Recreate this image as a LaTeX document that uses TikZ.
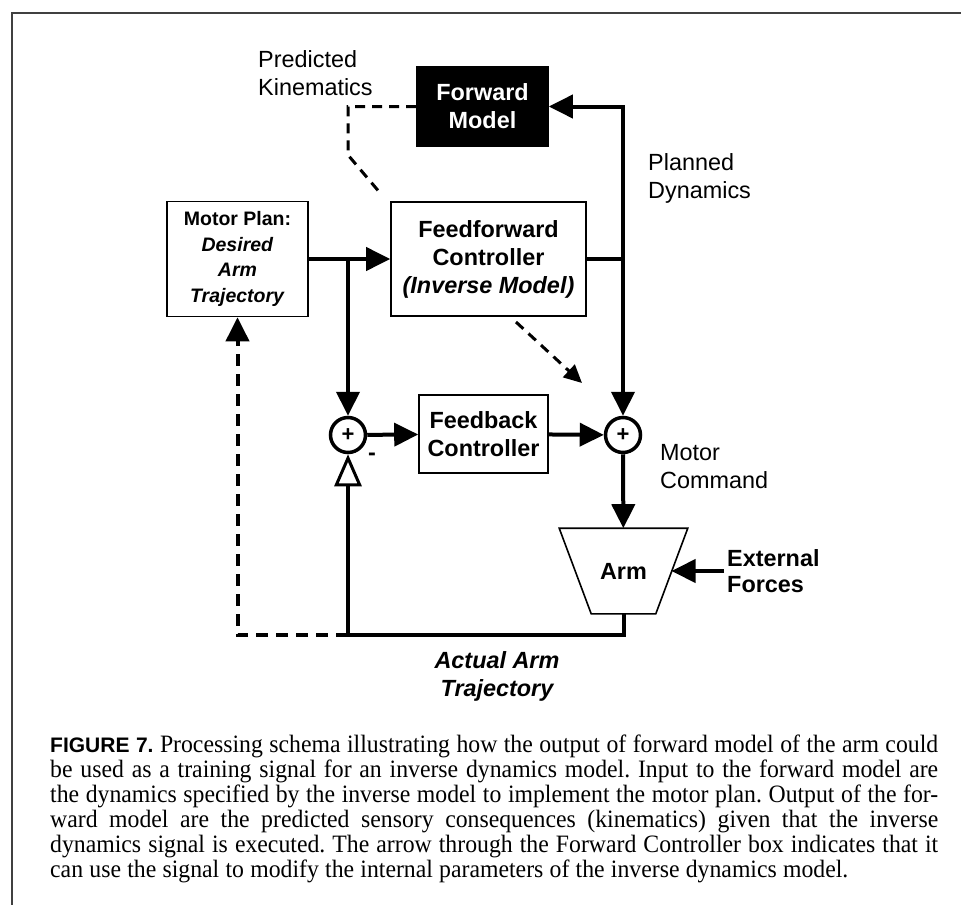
\documentclass[tikz,border=0pt]{standalone}
\usepackage{fontspec}
\setmainfont{Liberation Serif}
\setsansfont{Liberation Sans}
\newfontfamily\capfont[FakeStretch=0.95]{Liberation Serif}
\usetikzlibrary{arrows.meta,shapes.geometric,positioning}

\begin{document}
\begin{tikzpicture}[
  x=1pt,y=-1pt,>={Triangle[length=24pt,width=23pt]},
  box/.style={draw,line width=1.6pt,align=center,inner sep=0pt,
    font=\sffamily\bfseries\fontsize{23.4}{28}\selectfont},
  plainlabel/.style={font=\sffamily\fontsize{23.4}{28}\selectfont,align=left,inner sep=0pt},
  boldlabel/.style={font=\sffamily\bfseries\fontsize{23.4}{26}\selectfont,align=left,inner sep=0pt},
  sumnode/.style={circle,draw,line width=3.5pt,minimum size=35pt,inner sep=0pt,
    font=\sffamily\bfseries\fontsize{22}{22}\selectfont},
  wire/.style={line width=4pt},
  dashwire/.style={line width=3pt,dash pattern=on 10pt off 7pt},
  fbwire/.style={line width=4pt,dash pattern=on 12pt off 8pt}
]
\useasboundingbox (0,0) rectangle (961,905);
\draw[line width=2pt,black!75] (961,13) -- (12,13) -- (12,905);

\node[box,fill=black,text=white,minimum width=131pt,minimum height=79pt] (fwd) at (482.5,106.5) {Forward\\Model};
\node[box,minimum width=195pt,minimum height=114pt] (ff) at (488.5,259) {Feedforward\\Controller\\\textit{(Inverse Model)}};
\node[box,minimum width=141pt,minimum height=115pt,
  font=\sffamily\bfseries\fontsize{19.5}{25.5}\selectfont] (plan) at (237.5,259) {Motor Plan:\\\textit{Desired}\\\textit{Arm}\\\textit{Trajectory}};
\node[box,minimum width=129pt,minimum height=78pt] (fb) at (483.5,434) {Feedback\\Controller};
\node[sumnode] (sa) at (348,435) {+};
\node[sumnode] (sb) at (623,435) {+};
\node[box,draw=none,minimum width=127pt,minimum height=84pt] (arm) at (623.5,571) {Arm};
\draw[line width=1.6pt] (arm.north west) -- (arm.north east) -- ([xshift=-32pt]arm.south east)
  -- ([xshift=32pt]arm.south west) -- cycle;

\node[plainlabel,anchor=west] (pk) at (258,73) {Predicted\\Kinematics};
\node[plainlabel,anchor=west] (pd) at (648,178) {Planned\\Dynamics};
\node[plainlabel,anchor=west] (mc) at (660,467) {Motor\\Command};
\node[boldlabel,anchor=west,inner sep=3pt] (ext) at (724,571) {External\\Forces};
\node[boldlabel,align=center,font=\sffamily\bfseries\itshape\fontsize{23.4}{28}\selectfont] (act) at (497,676) {Actual Arm\\Trajectory};
\node[boldlabel] (minus) at (372,457) {-};

\coordinate (kbend) at (348,155);
\coordinate (kend) at (381,194);
\coordinate (tstart) at (516,322);
\coordinate (tend) at (582,383);
\coordinate (fbk) at (348,635);

\draw[wire,->] (plan) -- (ff);
\draw[wire,->] (plan.east -| sa) -- (sa);
\draw[wire,->] (sa) -- (fb);
\draw[wire,->] (fb) -- (sb);
\draw[wire] (ff) -- (ff.east -| sb);
\draw[wire,->] (ff.east -| sb) |- (fwd);
\draw[wire,->] (ff.east -| sb) -- (sb);
\draw[wire,->] (sb) -- (arm);
\draw[wire,->] (ext.west) -- ([xshift=48pt]arm.center);
\draw[wire] (arm.south) -- (arm.south |- fbk) -- (fbk);
\draw[wire,-{Triangle[open,length=32pt,width=27pt,line width=3pt]}] (fbk) -- (sa);
\draw[fbwire,->] (fbk) -| (plan);
\draw[dashwire] (fwd.west) -- (fwd.west -| kbend) -- (kbend) -- (kend);
\draw[dashwire,-{Triangle[length=18pt,width=17pt]}] (tstart) -- (tend);

\node[anchor=north west,text width=888pt,inner sep=0pt,align=justify,
  font=\capfont\fontsize{25}{25}\selectfont] (cap) at (50,735)
  {\frenchspacing\spaceskip=.25em plus .3em minus .1em
  \textsf{\bfseries\fontsize{21}{25}\selectfont FIGURE 7.} Processing schema illustrating how the output of forward model of the arm could\linebreak
  be used as a training signal for an inverse dynamics model. Input to the forward model are\linebreak
  the dynamics specified by the inverse model to implement the motor plan. Output of the for-\linebreak
  ward model are the predicted sensory consequences (kinematics) given that the inverse\linebreak
  dynamics signal is executed. The arrow through the Forward Controller box indicates that it\linebreak
  can use the signal to modify the internal parameters of the inverse dynamics model.};
\end{tikzpicture}
\end{document}
